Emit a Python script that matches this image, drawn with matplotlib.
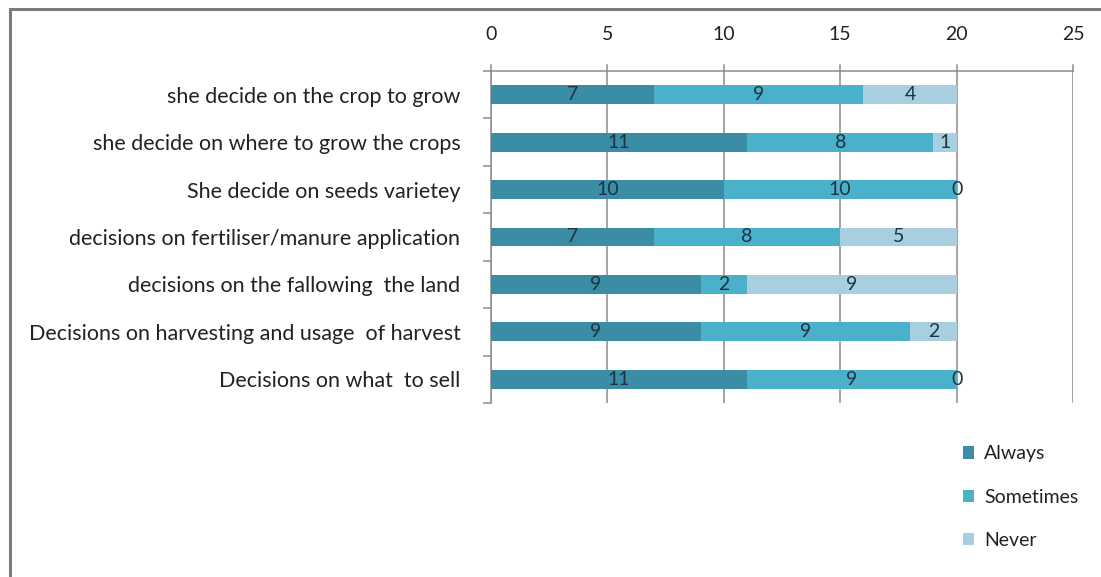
import matplotlib.pyplot as plt
from matplotlib.patches import Rectangle

plt.rcParams["font.family"] = ["Lato", "DejaVu Sans"]

categories = [
    "she decide on the crop to grow",
    "she decide on where to grow the crops",
    "She decide on seeds varietey",
    "decisions on fertiliser/manure application",
    "decisions on the fallowing  the land",
    "Decisions on harvesting and usage  of harvest",
    "Decisions on what  to sell",
]
always = [7, 11, 10, 7, 9, 9, 11]
sometimes = [9, 8, 10, 8, 2, 9, 9]
never = [4, 1, 0, 5, 9, 2, 0]
series_names = ["Always", "Sometimes", "Never"]
colors = ["#3a8da4", "#4bb0ca", "#a8cfdf"]
x_ticks = [0, 5, 10, 15, 20, 25]

fig = plt.figure(figsize=(11.01, 5.77), dpi=100)
fig.patches.append(Rectangle((10 / 1101, -0.1), 1.2, 1 - 9 / 577 + 0.1,
                             transform=fig.transFigure, fill=False,
                             edgecolor="#7a7a7a", linewidth=2.2))

ax = fig.add_axes([491 / 1101, 1 - 403 / 577, 582 / 1101, 332 / 577])

y = list(range(len(categories)))
left = [0] * len(categories)
for name, vals, col in zip(series_names, [always, sometimes, never], colors):
    ax.barh(y, vals, left=left, height=0.4, color=col, label=name, zorder=3)
    for yi, l, v in zip(y, left, vals):
        ax.text(l + v / 2, yi, str(v), ha="center", va="center",
                fontsize=14, color="#1c3440", zorder=4)
    left = [a + b for a, b in zip(left, vals)]

ax.set_xlim(0, 25)
ax.set_ylim(len(categories) - 0.5, -0.5)
ax.set_xticks(x_ticks)
ax.xaxis.tick_top()
ax.tick_params(axis="x", which="both", length=0, pad=20, labelsize=14, labelcolor="#222222")
ax.xaxis.grid(True, color="#8c8c8c", linewidth=1.1, zorder=0)

ax.set_yticks(y)
ax.set_yticklabels(categories, fontsize=15.5, color="#222222")
ax.tick_params(axis="y", which="major", length=0, pad=22)
ax.set_yticks([i - 0.5 for i in range(len(categories) + 1)], minor=True)
ax.tick_params(axis="y", which="minor", length=6, color="#8c8c8c", width=1.1)

for s in ["right", "bottom"]:
    ax.spines[s].set_visible(False)
ax.spines["top"].set_color("#8c8c8c")
ax.spines["left"].set_color("#8c8c8c")
ax.spines["top"].set_linewidth(1.1)
ax.spines["left"].set_linewidth(1.1)

# small tick marks crossing the top axis
for xt in x_ticks:
    ax.plot([xt, xt], [-0.5, -0.62], color="#8c8c8c", linewidth=1.1, clip_on=False)

fig.legend(loc="upper left", bbox_to_anchor=(945 / 1101, 1 - 428 / 577),
           frameon=False, fontsize=14, handlelength=0.6, handleheight=0.6,
           handletextpad=0.5, labelspacing=1.35, labelcolor="#222222")

fig.savefig("out.png", dpi=100)
